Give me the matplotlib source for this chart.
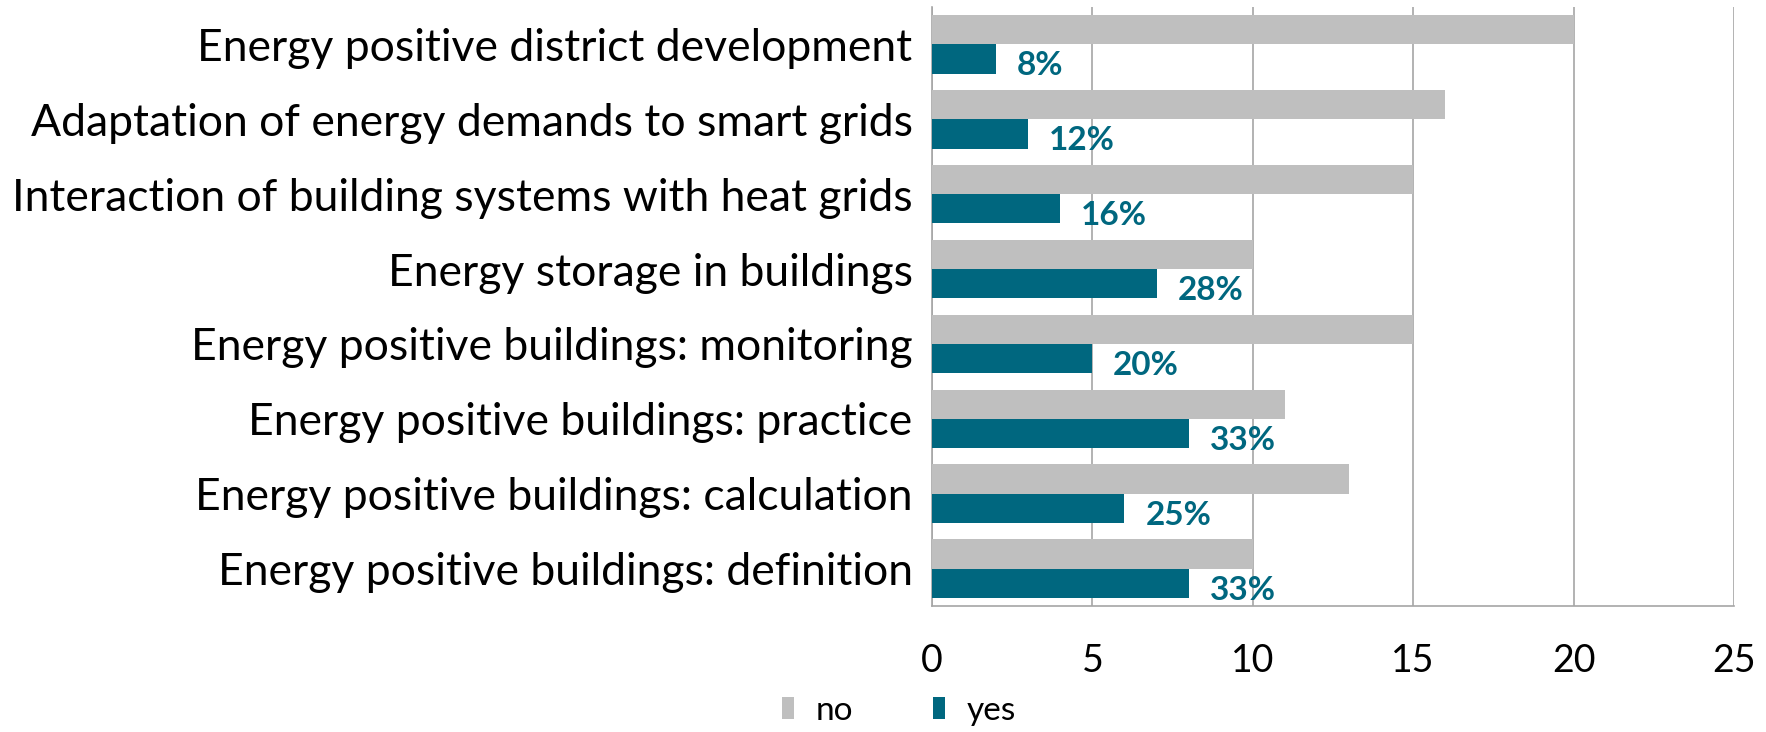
import matplotlib
matplotlib.use("Agg")
import matplotlib.pyplot as plt
import numpy as np

categories = [
    "Energy positive district development",
    "Adaptation of energy demands to smart grids",
    "Interaction of building systems with heat grids",
    "Energy storage in buildings",
    "Energy positive buildings: monitoring",
    "Energy positive buildings: practice",
    "Energy positive buildings: calculation",
    "Energy positive buildings: definition",
]
no_values = [20, 16, 15, 10, 15, 11, 13, 10]
yes_values = [2, 3, 4, 7, 5, 8, 6, 8]
yes_labels = ["8%", "12%", "16%", "28%", "20%", "33%", "25%", "33%"]
x_ticks = [0, 5, 10, 15, 20, 25]

GRAY = "#BFBFBF"
TEAL = "#00677F"
FONT = ["Lato", "DejaVu Sans"]
plt.rcParams['font.family'] = FONT

fig = plt.figure(figsize=(17.66, 7.32), dpi=100)
ax = fig.add_axes([932/1766, 1-606/732, (1734-932)/1766, (606-7)/732])

n = len(categories)
y = np.arange(n)[::-1].astype(float)
h = 0.39
ax.barh(y + h/2, no_values, height=h, color=GRAY, label="no", zorder=3)
ax.barh(y - h/2, yes_values, height=h, color=TEAL, label="yes", zorder=3)

for yi, v, lab in zip(y, yes_values, yes_labels):
    ax.annotate(lab, xy=(v, yi - h/2), xytext=(15, -5), textcoords="offset points",
                ha="left", va="center", fontsize=24, fontweight="bold", color=TEAL, zorder=4)

ax.set_xlim(0, 25)
ax.set_ylim(-0.5, n - 0.5)
ax.set_xticks(x_ticks)
ax.set_xticklabels([str(t) for t in x_ticks], fontsize=27)
ax.set_yticks(y)
ax.set_yticklabels(categories, fontsize=32)
ax.tick_params(axis="x", length=0, pad=27)
ax.tick_params(axis="y", length=0, pad=14)
ax.grid(axis="x", color="#A6A6A6", linewidth=1.2, zorder=0)
for s in ["top", "right"]:
    ax.spines[s].set_visible(False)
for s in ["left", "bottom"]:
    ax.spines[s].set_color("#A6A6A6")
    ax.spines[s].set_linewidth(1.2)

fig.legend(loc="center", bbox_to_anchor=(0.509, 0.029), ncol=2, frameon=False,
           fontsize=24, handlelength=0.37, handleheight=0.62, columnspacing=2.4,
           handletextpad=0.65, borderpad=0.1)

fig.savefig("out.png", dpi=100)
